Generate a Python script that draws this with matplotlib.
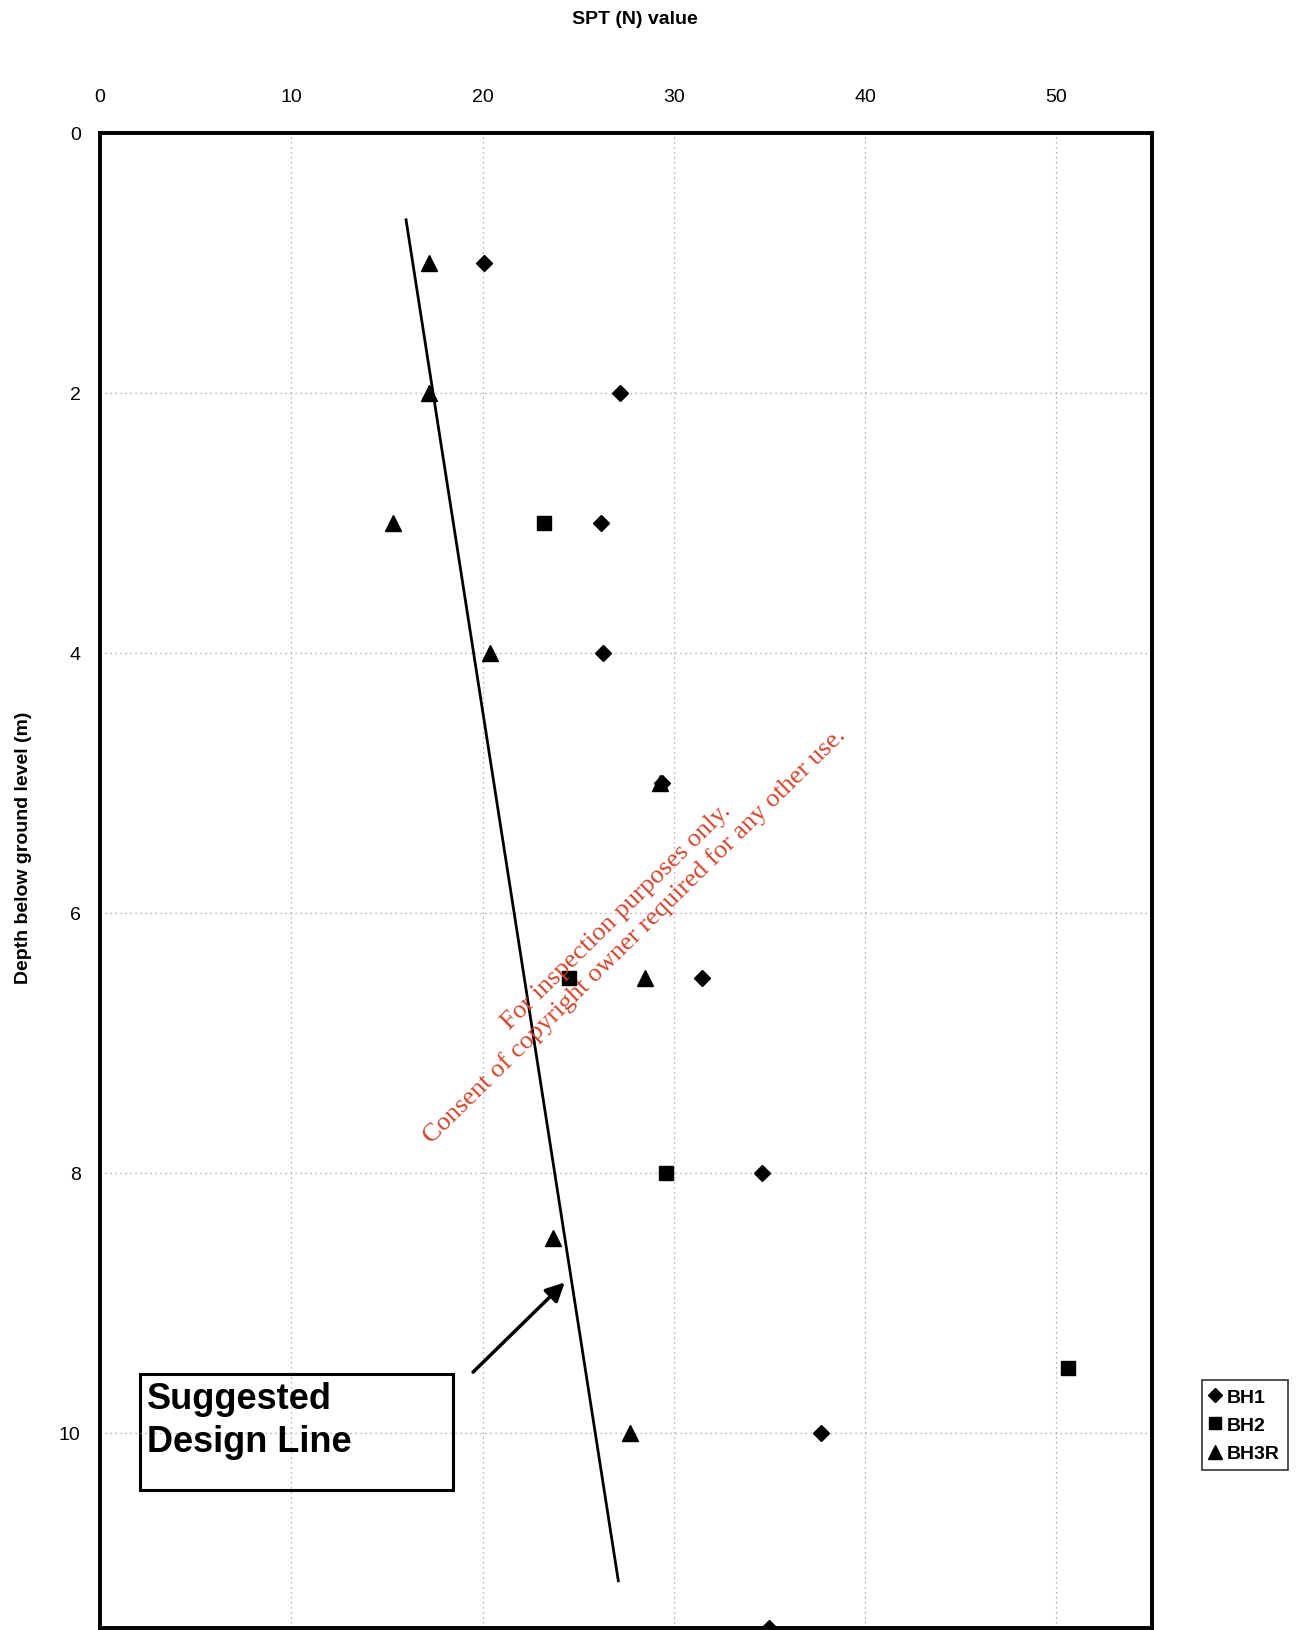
import matplotlib
matplotlib.use("Agg")
import matplotlib.pyplot as plt
from matplotlib.patches import Rectangle

plt.rcParams["font.family"] = ["Liberation Sans", "DejaVu Sans"]

# SPT N values (depth in m)
bh1_depth = [1.0, 2.0, 3.0, 4.0, 5.0, 6.5, 8.0, 10.0, 11.5]
bh1_n = [20.1, 27.2, 26.2, 26.3, 29.4, 31.5, 34.6, 37.7, 35.0]

bh2_depth = [3.0, 6.5, 8.0, 9.5]
bh2_n = [23.2, 24.5, 29.6, 50.6]

bh3r_depth = [1.0, 2.0, 3.0, 4.0, 5.0, 6.5, 8.5, 10.0]
bh3r_n = [17.2, 17.2, 15.3, 20.4, 29.3, 28.5, 23.7, 27.7]

# suggested design line end points
design_n = [16.0, 27.1]
design_depth = [0.67, 11.14]

x_ticks = [0, 10, 20, 30, 40, 50]
y_ticks = [0, 2, 4, 6, 8, 10]

fig = plt.figure(figsize=(13, 16.31), dpi=100)
ax = fig.add_axes([0.077, 0.0015, 0.809, 0.9165])

ax.set_xlim(0, 55)
ax.set_ylim(11.5, 0)
ax.xaxis.tick_top()
ax.set_xticks(x_ticks)
ax.set_yticks(y_ticks)
ax.tick_params(length=0, labelsize=14)
ax.tick_params(axis="x", pad=20)
ax.tick_params(axis="y", pad=14)
for s in ax.spines.values():
    s.set_linewidth(2.8)

ax.grid(True, color="#999999", linestyle=(0, (1, 3)), linewidth=0.9)

ax.plot(bh1_n, bh1_depth, "D", color="black", markersize=8, label="BH1")
ax.plot(bh2_n, bh2_depth, "s", color="black", markersize=10, label="BH2")
ax.plot(bh3r_n, bh3r_depth, "^", color="black", markersize=11, label="BH3R")

ax.plot(design_n, design_depth, color="black", linewidth=2)

# label box + arrow
ax.add_patch(Rectangle((2.07, 9.55), 16.4, 0.89, fill=False,
                       edgecolor="black", linewidth=2.2))
ax.text(2.45, 9.6, "Suggested\nDesign Line", fontsize=26, fontweight="bold",
        va="top", ha="left", linespacing=1.3)
ax.annotate("", xy=(24.4, 8.83), xytext=(19.4, 9.55),
            arrowprops=dict(arrowstyle="-|>", lw=2.5, color="black",
                            mutation_scale=28))

fig.text(0.488, 0.988, "SPT (N) value", fontsize=14, fontweight="bold",
         ha="center", va="center")
fig.text(0.018, 0.48, "Depth below ground level (m)", fontsize=14,
         fontweight="bold", rotation=90, ha="center", va="center")

handles, labels = ax.get_legend_handles_labels()
leg = fig.legend(handles, labels, loc="upper left",
                 bbox_to_anchor=(0.917, 0.159),
                 prop={"weight": "bold", "size": 14}, frameon=True,
                 fancybox=False, handlelength=0.6, handletextpad=0.3,
                 borderpad=0.4, labelspacing=0.55, markerscale=0.9)
leg.get_frame().set_edgecolor("black")
leg.get_frame().set_linewidth(1.2)

# watermark
fig.text(0.481, 0.432,
         "For inspection purposes only.\nConsent of copyright owner required for any other use.",
         fontsize=19, color="#d2452e", family=["Liberation Serif", "DejaVu Serif"],
         rotation=44.5, ha="center", va="center", multialignment="center",
         rotation_mode="anchor")

fig.savefig("out.png", dpi=100)
